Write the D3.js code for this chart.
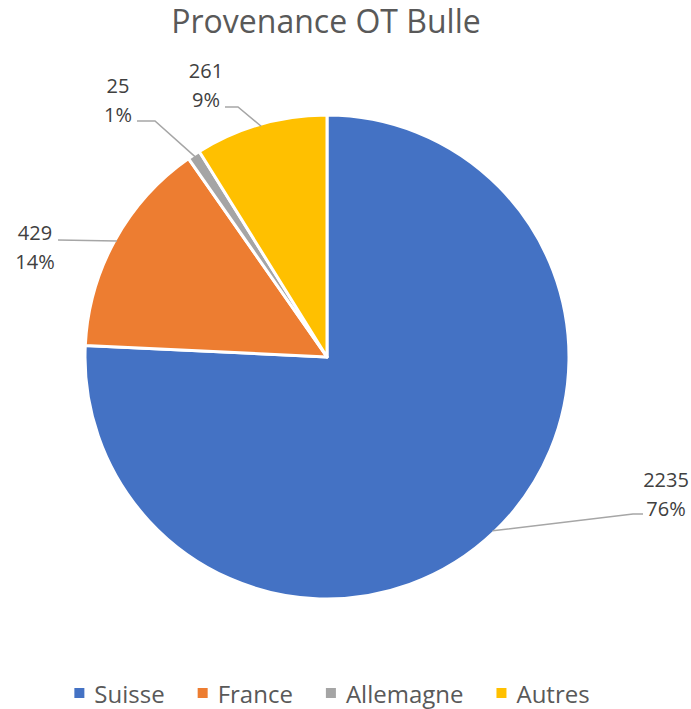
<!DOCTYPE html>
<html>
<head>
<meta charset="utf-8">
<script src="https://cdn.jsdelivr.net/npm/d3@7"></script>
<style>
  body { margin: 0; background: #fff; }
  text { font-family: "Open Sans", "Liberation Sans", sans-serif; }
</style>
</head>
<body>
<script>
// chart data
var categories = ["Suisse", "France", "Allemagne", "Autres"];
var values = [2235, 429, 25, 261];
var percentLabels = ["76%", "14%", "1%", "9%"];
var colors = ["#4472C4", "#ED7D31", "#A5A5A5", "#FFC000"];

// label layout: text centre / first baseline, leader line start and elbow
var labelPos = [
  {x: 666, y: 487, lead: [[643, 514], [633, 514]]},
  {x: 35,  y: 240, lead: [[58, 240]]},
  {x: 118, y: 93,  lead: [[137, 121], [155, 121]]},
  {x: 206, y: 78,  lead: [[225, 107], [238, 107]]}
];

var width = 691, height = 709;
var cx = 327, cy = 357, radius = 242;

var svg = d3.select("body")
   .append("svg")
   .attr("width", width)
   .attr("height", height);

svg.append("text")
   .text("Provenance OT Bulle")
   .attr("x", 326)
   .attr("y", 33)
   .attr("text-anchor", "middle")
   .attr("fill", "#595959")
   .style("font-size", "32px");

var pie = d3.pie().sort(null).value(function(d){ return d; });
var arcs = pie(values);

var arc = d3.arc().innerRadius(0).outerRadius(radius);

var g = svg.append("g").attr("transform", "translate(" + cx + "," + cy + ")");

g.selectAll("path")
   .data(arcs)
   .enter()
   .append("path")
   .attr("d", arc)
   .attr("fill", function(d, i){ return colors[i]; })
   .attr("stroke", "#fff")
   .attr("stroke-width", 3)
   .attr("stroke-linejoin", "round");

// leader lines, from the label to the middle of the slice edge
arcs.forEach(function(d, i){
  var mid = (d.startAngle + d.endAngle) / 2;
  var r = radius - 2;
  var pts = labelPos[i].lead.slice();
  pts.push([cx + r * Math.sin(mid), cy - r * Math.cos(mid)]);
  svg.append("path")
     .attr("d", d3.line()(pts))
     .attr("fill", "none")
     .attr("stroke", "#A6A6A6")
     .attr("stroke-width", 1.5);
});

// data labels
var lab = svg.selectAll("text.lab")
   .data(arcs)
   .enter()
   .append("text")
   .attr("class", "lab")
   .attr("text-anchor", "middle")
   .attr("fill", "#404040")
   .style("font-size", "20px");

lab.append("tspan")
   .attr("x", function(d, i){ return labelPos[i].x; })
   .attr("y", function(d, i){ return labelPos[i].y; })
   .text(function(d){ return d.data; });
lab.append("tspan")
   .attr("x", function(d, i){ return labelPos[i].x; })
   .attr("y", function(d, i){ return labelPos[i].y + 29; })
   .text(function(d, i){ return percentLabels[i]; });

// legend
var legend = svg.append("g");
var xPos = 0;
categories.forEach(function(c, i){
  var item = legend.append("g").attr("transform", "translate(" + xPos + ",0)");
  item.append("rect")
     .attr("x", 0).attr("y", -15)
     .attr("width", 10).attr("height", 10)
     .attr("fill", colors[i]);
  var t = item.append("text")
     .text(c)
     .attr("x", 20)
     .attr("y", 0)
     .attr("fill", "#595959")
     .style("font-size", "24px");
  xPos += 20 + t.node().getComputedTextLength() + 33;
});
var legW = xPos - 33;
legend.attr("transform", "translate(" + (332 - legW / 2) + ",703)");
</script>
</body>
</html>
